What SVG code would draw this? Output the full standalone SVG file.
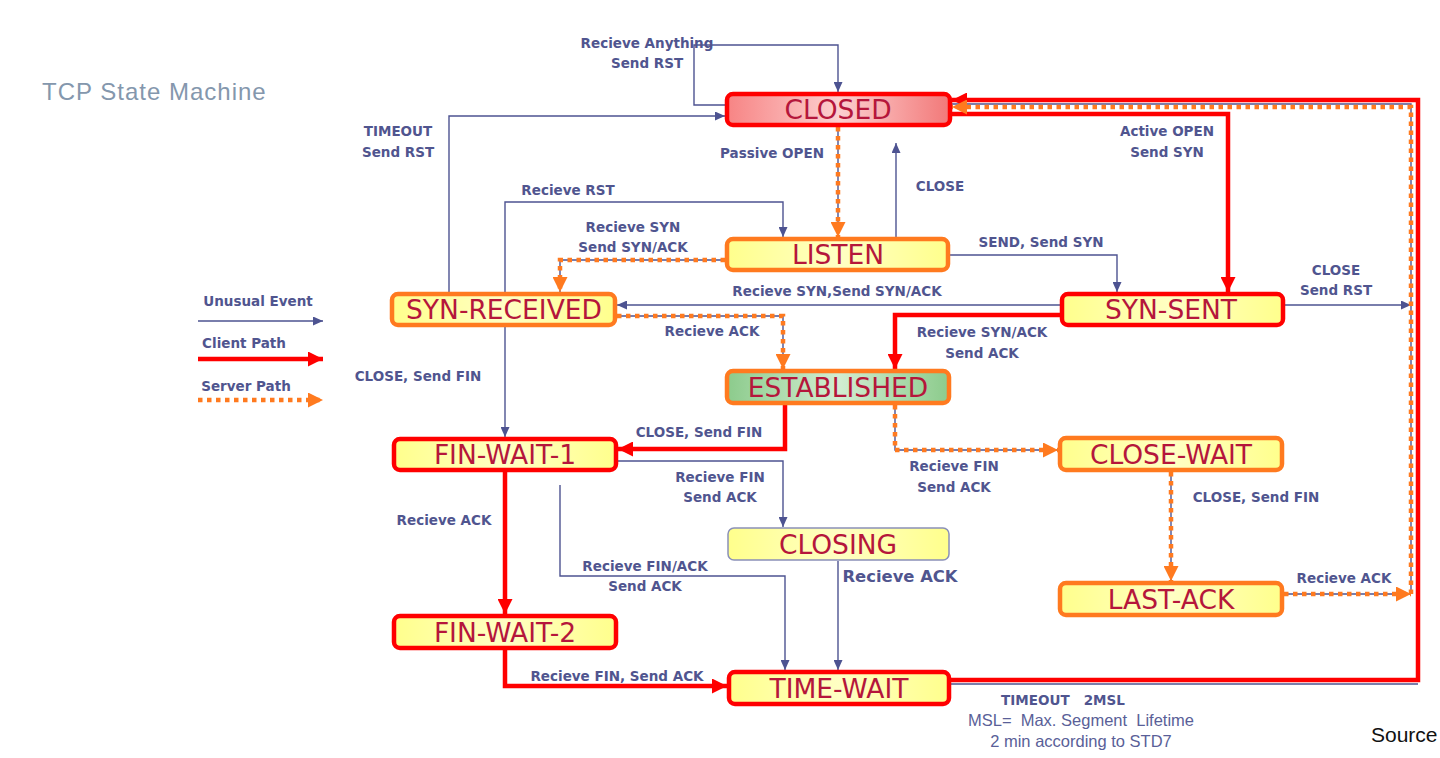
<svg xmlns="http://www.w3.org/2000/svg" width="1440" height="758" viewBox="0 0 1440 758">
<style>
.u{fill:none;stroke:#4d5391;stroke-width:1.4}
.c{fill:none;stroke:#ff0000;stroke-width:4.5}
.s{fill:none;stroke:#ff7a1f;stroke-width:4.5;stroke-dasharray:4.5 4.5}
.l{font-family:"DejaVu Sans",Verdana,sans-serif;font-weight:bold;font-size:13.5px;fill:#50558f;text-anchor:middle}
.m{font-family:"Liberation Sans",Arial,sans-serif;font-size:16.5px;fill:#5a5f98;text-anchor:middle}
.n{font-family:"DejaVu Sans",Verdana,sans-serif;font-size:26.5px;fill:#b5163b;text-anchor:middle}
.ry{fill:url(#gy);stroke:#ff0000;stroke-width:4.5}
.oy{fill:url(#gy);stroke:#ff7a1f;stroke-width:4.5}
</style>
<defs>
<linearGradient id="gy" x1="0" y1="0" x2="1" y2="0">
<stop offset="0" stop-color="#ffff8c"/><stop offset="0.5" stop-color="#ffffc4"/><stop offset="1" stop-color="#ffff8c"/>
</linearGradient>
<linearGradient id="gr" x1="0" y1="0" x2="1" y2="0">
<stop offset="0" stop-color="#f78484"/><stop offset="0.5" stop-color="#fcd0d0"/><stop offset="1" stop-color="#f27878"/>
</linearGradient>
<linearGradient id="gg" x1="0" y1="0" x2="1" y2="0">
<stop offset="0" stop-color="#8ccb8c"/><stop offset="0.5" stop-color="#d2edd2"/><stop offset="1" stop-color="#8ccb8c"/>
</linearGradient>
<marker id="ab" markerUnits="userSpaceOnUse" markerWidth="10" markerHeight="9" refX="10" refY="4.5" orient="auto"><path d="M0,0 L10,4.5 L0,9 z" fill="#4d5391"/></marker>
<marker id="ar" markerUnits="userSpaceOnUse" markerWidth="15" markerHeight="15" refX="15" refY="7.5" orient="auto"><path d="M0,0 L15,7.5 L0,15 z" fill="#ff0000"/></marker>
<marker id="ao" markerUnits="userSpaceOnUse" markerWidth="15" markerHeight="15" refX="15" refY="7.5" orient="auto"><path d="M0,0 L15,7.5 L0,15 z" fill="#ff7a1f"/></marker>
</defs>
<rect width="1440" height="758" fill="#ffffff"/>
<text x="42" y="100" font-family="Liberation Sans, Arial, sans-serif" font-size="24" letter-spacing="1" fill="#8497ad">TCP State Machine</text>
<text x="1371" y="742" font-family="Liberation Sans, Arial, sans-serif" font-size="21" fill="#111">Source</text>

<g id="legend">
<text class="l" x="258" y="306">Unusual Event</text>
<path class="u" d="M198,321 H323" marker-end="url(#ab)"/>
<text class="l" x="244" y="348">Client Path</text>
<path class="c" d="M198,359 H323" marker-end="url(#ar)"/>
<text class="l" x="246" y="391">Server Path</text>
<path class="s" d="M198,400 H323" marker-end="url(#ao)"/>
</g>

<g id="connectors">
<path class="u" d="M725,105 H694 V45 H838 V92" marker-end="url(#ab)"/>
<path class="u" d="M449,292 V116 H725" marker-end="url(#ab)"/>
<path class="u" d="M505,292 V202 H783 V237" marker-end="url(#ab)"/>
<path class="u" d="M505,327 V437" marker-end="url(#ab)"/>
<path class="u" d="M896,237 V143" marker-end="url(#ab)"/>
<path class="u" d="M950,255 H1117 V292" marker-end="url(#ab)"/>
<path class="u" d="M1060,305 H617" marker-end="url(#ab)"/>
<path class="u" d="M1285,305 H1411" marker-end="url(#ab)"/>
<path class="u" d="M618,461 H783 V527" marker-end="url(#ab)"/>
<path class="u" d="M560,485 V576 H785 V670" marker-end="url(#ab)"/>
<path class="u" d="M838,561 V670" marker-end="url(#ab)"/>
<path class="u" d="M838,127 V237"/>
<path class="u" d="M725,260 H560 V292"/>
<path class="u" d="M617,316 H783 V369"/>
<path class="u" d="M895,405 V450 H1058"/>
<path class="u" d="M1171,472 V581"/>
<path class="u" d="M1284,594 H1411"/>
<path class="u" d="M1411,594 V104 H952"/>
<path class="u" d="M951,684 H1418"/>
<path class="c" d="M952,114 H1228 V292" marker-end="url(#ar)"/>
<path class="c" d="M1060,315 H895 V369" marker-end="url(#ar)"/>
<path class="c" d="M785,405 V449 H618" marker-end="url(#ar)"/>
<path class="c" d="M505,472 V614" marker-end="url(#ar)"/>
<path class="c" d="M505,650 V686 H727" marker-end="url(#ar)"/>
<path class="c" d="M951,680 H1418 V100 H952" marker-end="url(#ar)"/>
<path class="s" d="M838,127 V237" marker-end="url(#ao)"/>
<path class="s" d="M725,260 H560 V292" marker-end="url(#ao)"/>
<path class="s" d="M617,316 H783 V369" marker-end="url(#ao)"/>
<path class="s" d="M895,405 V450 H1058" marker-end="url(#ao)"/>
<path class="s" d="M1171,472 V581" marker-end="url(#ao)"/>
<path class="s" d="M1284,594 H1411" marker-end="url(#ao)"/>
<path class="s" d="M1411,594 V107 H952" marker-end="url(#ao)"/>
<text class="l" x="647" y="48">Recieve Anything</text>
<text class="l" x="647" y="68">Send RST</text>
<text class="l" x="398" y="136">TIMEOUT</text>
<text class="l" x="398" y="157">Send RST</text>
<text class="l" x="772" y="158">Passive OPEN</text>
<text class="l" x="940" y="191">CLOSE</text>
<text class="l" x="568" y="195">Recieve RST</text>
<text class="l" x="633" y="232">Recieve SYN</text>
<text class="l" x="633" y="252">Send SYN/ACK</text>
<text class="l" x="1041" y="247">SEND, Send SYN</text>
<text class="l" x="1167" y="136">Active OPEN</text>
<text class="l" x="1167" y="157">Send SYN</text>
<text class="l" x="1336" y="275">CLOSE</text>
<text class="l" x="1336" y="295">Send RST</text>
<text class="l" x="837" y="296">Recieve SYN,Send SYN/ACK</text>
<text class="l" x="712" y="336">Recieve ACK</text>
<text class="l" x="982" y="337">Recieve SYN/ACK</text>
<text class="l" x="982" y="358">Send ACK</text>
<text class="l" x="418" y="381">CLOSE, Send FIN</text>
<text class="l" x="699" y="437">CLOSE, Send FIN</text>
<text class="l" x="954" y="471">Recieve FIN</text>
<text class="l" x="954" y="492">Send ACK</text>
<text class="l" x="720" y="482">Recieve FIN</text>
<text class="l" x="720" y="502">Send ACK</text>
<text class="l" x="1256" y="502">CLOSE, Send FIN</text>
<text class="l" x="444" y="525">Recieve ACK</text>
<text class="l" x="645" y="571">Recieve FIN/ACK</text>
<text class="l" x="645" y="591">Send ACK</text>
<text class="l" x="900" y="582" style="font-size:16.4px">Recieve ACK</text>
<text class="l" x="1344" y="583">Recieve ACK</text>
<text class="l" x="617" y="681">Recieve FIN, Send ACK</text>
<text class="l" x="1063" y="705" xml:space="preserve">TIMEOUT   2MSL</text>
<text class="m" x="1081" y="726" xml:space="preserve">MSL=  Max. Segment  Lifetime</text>
<text class="m" x="1081" y="747">2 min according to STD7</text>
</g>

<g id="closed"><rect x="727" y="94" width="223" height="31" rx="6" fill="url(#gr)" stroke="#ff0000" stroke-width="4.5"/><text class="n" x="838" y="119">CLOSED</text></g>
<g id="listen"><rect class="oy" x="727" y="239" width="221" height="31" rx="6"/><text class="n" x="838" y="264">LISTEN</text></g>
<g id="syn-received"><rect class="oy" x="392" y="294" width="223" height="31" rx="6"/><text class="n" x="504" y="319">SYN-RECEIVED</text></g>
<g id="syn-sent"><rect class="ry" x="1062" y="294" width="221" height="31" rx="6"/><text class="n" x="1171" y="319">SYN-SENT</text></g>
<g id="established"><rect x="727" y="371" width="222" height="32" rx="6" fill="url(#gg)" stroke="#ff7a1f" stroke-width="4.5"/><text class="n" x="838" y="396.5">ESTABLISHED</text></g>
<g id="fin-wait-1"><rect class="ry" x="394" y="439" width="222" height="31" rx="6"/><text class="n" x="505" y="464">FIN-WAIT-1</text></g>
<g id="close-wait"><rect class="oy" x="1060" y="438" width="222" height="32" rx="6"/><text class="n" x="1171" y="463.5">CLOSE-WAIT</text></g>
<g id="closing"><rect x="728" y="528" width="221" height="32" rx="6" fill="url(#gy)" stroke="#8a90b8" stroke-width="1.5"/><text class="n" x="838" y="553.5">CLOSING</text></g>
<g id="last-ack"><rect class="oy" x="1060" y="583" width="222" height="32" rx="6"/><text class="n" x="1171" y="608.5">LAST-ACK</text></g>
<g id="fin-wait-2"><rect class="ry" x="394" y="616" width="222" height="32" rx="6"/><text class="n" x="505" y="641.5">FIN-WAIT-2</text></g>
<g id="time-wait"><rect class="ry" x="729" y="672" width="220" height="32" rx="6"/><text class="n" x="839" y="697.5">TIME-WAIT</text></g>
</svg>
